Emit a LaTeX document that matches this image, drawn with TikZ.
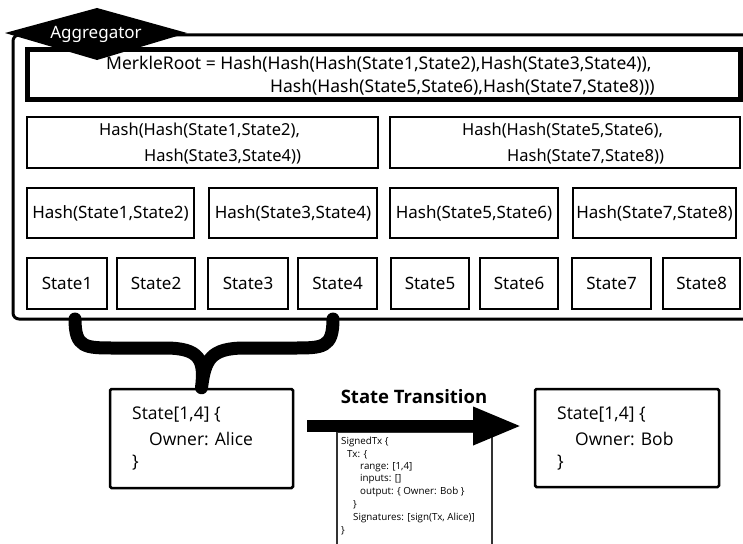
\documentclass[tikz,border=0pt]{standalone}
\usepackage{fontspec}
\setmainfont{Noto Sans}
\newfontfamily\lowfont{Open Sans}
\usetikzlibrary{arrows.meta,calc}
\begin{document}
\begin{tikzpicture}[x=1pt,y=-1pt,
  box/.style={draw=black, line width=2.5pt, inner sep=0pt, font=\fontsize{17}{20}\selectfont},
  txt/.style={anchor=west, inner sep=0pt, font=\fontsize{17.5}{20}\selectfont},
  txtb/.style={anchor=west, inner sep=0pt, font=\fontsize{16.5}{20}\selectfont},
  statebox/.style={draw=black, line width=2.5pt, rounded corners=1.5pt, inner sep=0pt},
  ltxt/.style={anchor=west, inner sep=0pt, font=\lowfont\fontsize{17.5}{20}\selectfont},
  stxt/.style={anchor=west, inner sep=0pt, font=\lowfont\fontsize{9.8}{11}\selectfont},
  brace/.style={line width=13pt, line cap=round, line join=round},
  bigarrow/.style={line width=12pt, -{Triangle[length=49pt,width=35pt]}},
]
\useasboundingbox (0,0) rectangle (743,543);
\clip (0,0) rectangle (743,543);
% outer aggregator frame
\draw[line width=3pt, rounded corners=6pt] (760,35) -- (13,35) -- (13,319) -- (760,319);
% label
\fill[black] (5,33) -- (97,8) -- (187,33) -- (97,60) -- cycle;
\node[text=white, inner sep=0pt, font=\fontsize{17}{20}\selectfont] (agg) at (96,34) {Aggregator};
% merkle root
\node[box, line width=5pt, minimum width=713pt, minimum height=49pt] (root) at (383.5,74.5) {};
\node[txt] (r1) at (106,64) {MerkleRoot = Hash(Hash(Hash(State1,State2),Hash(State3,State4)),};
\node[txt] (r2) at (270,87) {Hash(Hash(State5,State6),Hash(State7,State8)))};
% level 2
\node[box, minimum width=351pt, minimum height=51pt] (h1234) at (202.5,142.5) {};
\node[txtb] (a1) at (99,131) {Hash(Hash(State1,State2),};
\node[txtb] (a2) at (144,157) {Hash(State3,State4))};
\node[box, minimum width=350pt, minimum height=51pt] (h5678) at (565,142.5) {};
\node[txtb] (b1) at (462,131) {Hash(Hash(State5,State6),};
\node[txtb] (b2) at (507,157) {Hash(State7,State8))};
% level 3
\node[box, minimum width=167pt, minimum height=50pt] (h12) at (110.5,213) {Hash(State1,State2)};
\node[box, minimum width=168pt, minimum height=50pt] (h34) at (293,213) {Hash(State3,State4)};
\node[box, minimum width=168pt, minimum height=50pt] (h56) at (474,213) {Hash(State5,State6)};
\node[box, minimum width=163pt, minimum height=50pt] (h78) at (654.5,213) {Hash(State7,State8)};
% level 4
\node[box, minimum width=80pt, minimum height=51pt] (s1) at (67,283.5) {State1};
\node[box, minimum width=78pt, minimum height=51pt] (s2) at (156,283.5) {State2};
\node[box, minimum width=80pt, minimum height=51pt] (s3) at (248,283.5) {State3};
\node[box, minimum width=79pt, minimum height=51pt] (s4) at (337.5,283.5) {State4};
\node[box, minimum width=78pt, minimum height=51pt] (s5) at (430,283.5) {State5};
\node[box, minimum width=78pt, minimum height=51pt] (s6) at (519,283.5) {State6};
\node[box, minimum width=79pt, minimum height=51pt] (s7) at (611.5,283.5) {State7};
\node[box, minimum width=77pt, minimum height=51pt] (s8) at (701.5,283.5) {State8};
% lower states
\node[statebox, minimum width=183pt, minimum height=99pt] (alice) at (201.5,438.5) {};
\node[ltxt] (al1) at (132,415) {State[1,4] \{};
\node[ltxt] (al2) at (149,439) {Owner: Alice};
\node[ltxt] (al3) at (132,463) {\}};
\node[statebox, minimum width=184pt, minimum height=98pt] (bob) at (627,438) {};
\node[ltxt] (bl1) at (557,415) {State[1,4] \{};
\node[ltxt] (bl2) at (575,439) {Owner: Bob};
\node[ltxt] (bl3) at (557,463) {\}};
% brace from State1..State4 to Alice
\coordinate (bl) at (75,319);
\coordinate (br) at (333,319);
\draw[brace] (bl) .. controls (75,348) and (85,348) .. (115,348) -- (165,348)
  .. controls (200,348) and (205,360) .. (alice.north)
  .. controls (205,360) and (210,348) .. (245,348) -- (293,348)
  .. controls (323,348) and (333,348) .. (br);
% transition
\node[inner sep=0pt, font=\lowfont\bfseries\fontsize{18.5}{22}\selectfont] (title) at (414,397) {State Transition};
\draw[line width=1.2pt, draw=black!80] (337,560) -- (337,432) -- (492,432) -- (492,560);
\coordinate (as) at (307,426);
\coordinate (ae) at (522,426);
\draw[bigarrow] (as) -- (ae);
\node[stxt] (t1) at (341,442) {SignedTx \{};
\node[stxt] (t2) at (347,455) {Tx: \{};
\node[stxt] (t3) at (360,467) {range: [1,4]};
\node[stxt] (t4) at (360,479) {inputs: []};
\node[stxt] (t5) at (360,492) {output: \{ Owner: Bob \}};
\node[stxt] (t6) at (353,505) {\}};
\node[stxt] (t7) at (353,518) {Signatures: [sign(Tx, Alice)]};
\node[stxt] (t8) at (341,531) {\}};
\end{tikzpicture}
\end{document}
